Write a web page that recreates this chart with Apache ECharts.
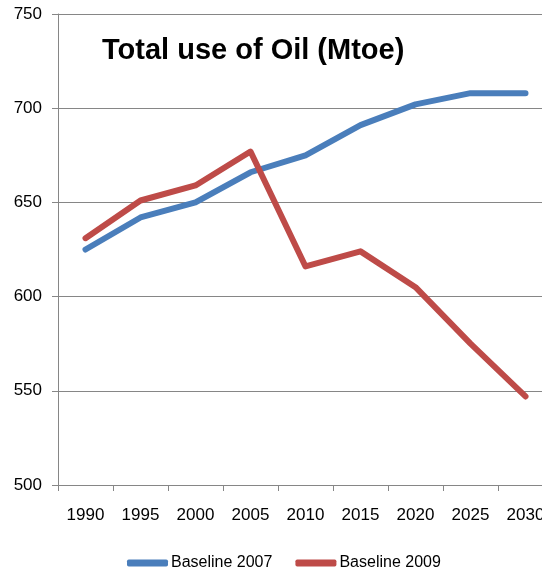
<!DOCTYPE html>
<html>
<head>
<meta charset="utf-8">
<script src="https://cdn.jsdelivr.net/npm/echarts@6/dist/echarts.min.js"></script>
<style>
html,body{margin:0;padding:0;background:#fff;overflow:hidden;width:542px;height:573px;}
#chart{width:560px;height:573px;}
</style>
</head>
<body>
<div id="chart"></div>
<script>
const years = ['1990','1995','2000','2005','2010','2015','2020','2025','2030'];
const baseline2007 = [625, 642, 650, 666, 675, 691, 702, 708, 708];
const baseline2009 = [631, 651, 659, 677, 616, 624, 605, 575, 547];
const yTicks = [500, 550, 600, 650, 700, 750];
const titleText = 'Total use of Oil (Mtoe)';
const seriesNames = ['Baseline 2007', 'Baseline 2009'];

const FONT = '"Liberation Sans", Arial, sans-serif';
const chart = echarts.init(document.getElementById('chart'), null, {renderer: 'canvas'});
chart.setOption({
  animation: false,
  backgroundColor: '#ffffff',
  title: {
    text: titleText,
    left: 102, top: 36, padding: 0,
    textStyle: {fontFamily: FONT, fontSize: 29, fontWeight: 'bold', color: '#000'}
  },
  legend: {
    data: seriesNames.map(n => ({name: n, icon: 'roundRect'})),
    left: 127, top: 555, padding: 0,
    itemWidth: 41, itemHeight: 7, itemGap: 23,
    textStyle: {fontFamily: FONT, fontSize: 16, color: '#000', padding: [0,0,0,-2]}
  },
  grid: {left: 58, right: 7, top: 14, bottom: 88, containLabel: false},
  xAxis: {
    type: 'category',
    data: years,
    boundaryGap: true,
    axisLine: {lineStyle: {color: '#868686', width: 1}},
    axisTick: {show: true, length: 6, inside: false, lineStyle: {color: '#868686'}},
    axisLabel: {fontFamily: FONT, fontSize: 17, color: '#000', margin: 22},
    splitLine: {show: false}
  },
  yAxis: {
    type: 'value',
    min: yTicks[0], max: yTicks[yTicks.length - 1], interval: 50,
    axisLine: {show: true, lineStyle: {color: '#868686', width: 1}},
    axisTick: {show: true, length: 6, lineStyle: {color: '#868686'}},
    axisLabel: {fontFamily: FONT, fontSize: 17, color: '#000', margin: 16},
    splitLine: {show: true, lineStyle: {color: '#868686', width: 1}}
  },
  series: [
    {
      name: seriesNames[0], type: 'line', data: baseline2007,
      symbol: 'none', color: '#4A7EBB',
      lineStyle: {width: 6, color: '#4A7EBB', cap: 'round', join: 'round'}
    },
    {
      name: seriesNames[1], type: 'line', data: baseline2009,
      symbol: 'none', color: '#BE4B48',
      lineStyle: {width: 6, color: '#BE4B48', cap: 'round', join: 'round'}
    }
  ]
});
</script>
</body>
</html>
